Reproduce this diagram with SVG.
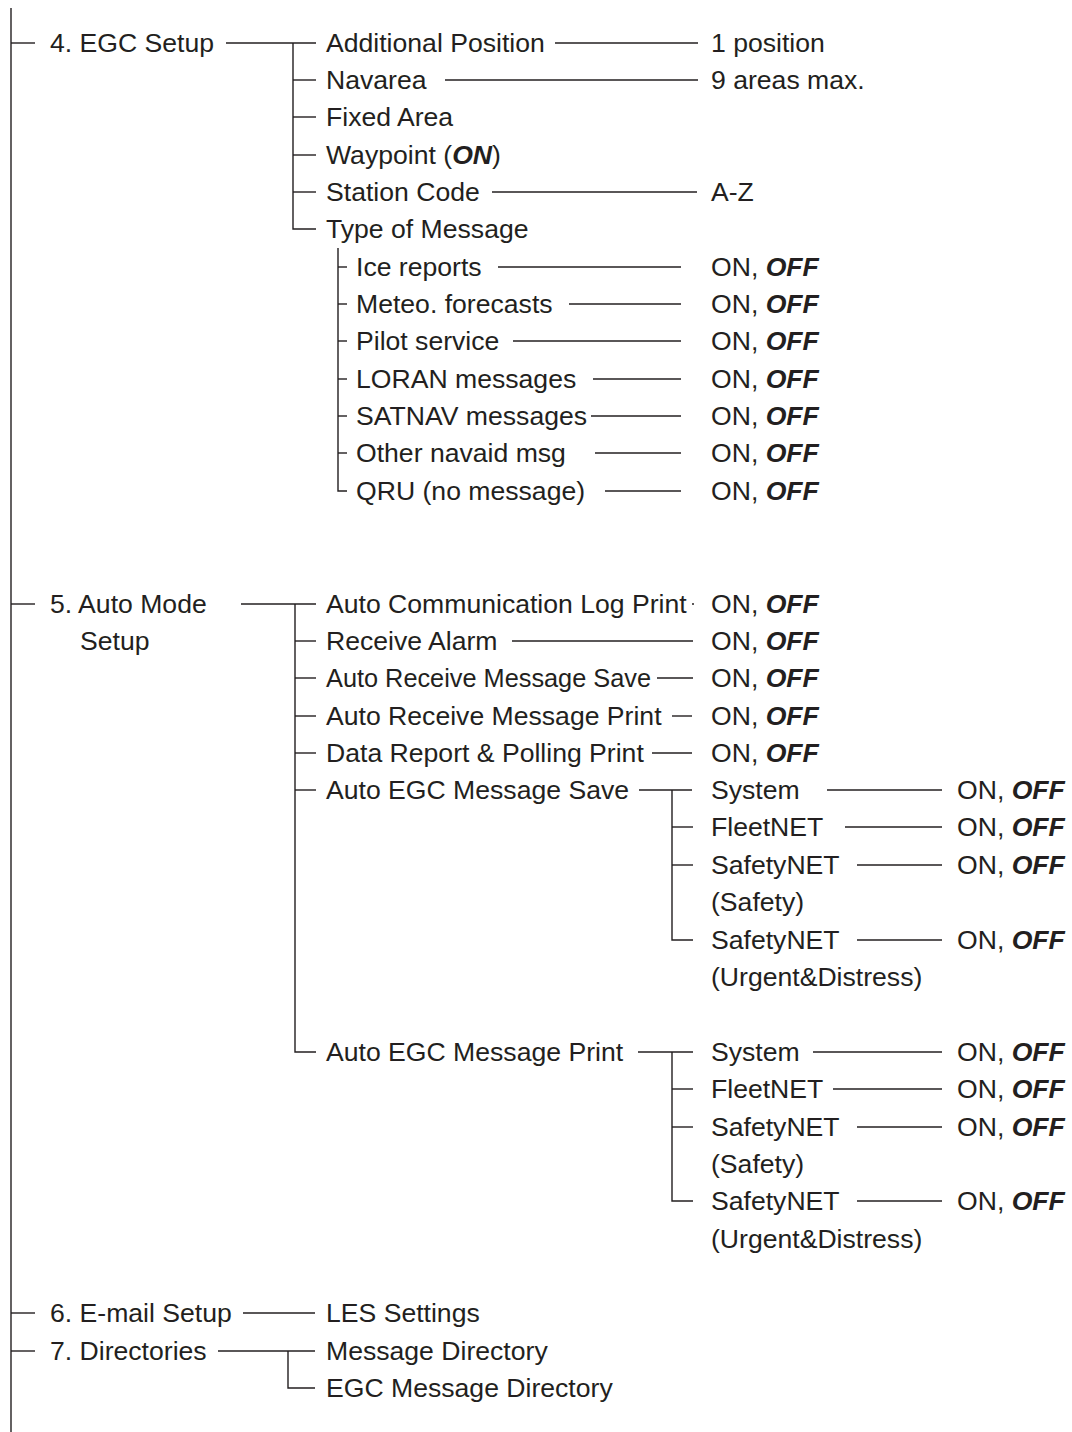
<svg xmlns="http://www.w3.org/2000/svg" width="1072" height="1432" viewBox="0 0 1072 1432">
<style>
text{font-family:"Liberation Sans",Arial,Helvetica,sans-serif;font-size:26.6px;fill:#231f20}
.b{font-weight:bold;font-style:italic}
#connectors line,#connectors path{stroke:#231f20;stroke-width:1.4;fill:none}
</style>
<rect width="1072" height="1432" fill="#fff"/>
<g id="connectors">
<line x1="11" y1="8" x2="11" y2="1432"/>
<line x1="11" y1="43" x2="35" y2="43"/>
<line x1="11" y1="604" x2="35" y2="604"/>
<line x1="11" y1="1313" x2="35" y2="1313"/>
<line x1="11" y1="1351" x2="35" y2="1351"/>
<!-- EGC setup -->
<line x1="226" y1="43" x2="316" y2="43"/>
<path d="M293 43V229H316"/>
<line x1="293" y1="80" x2="316" y2="80"/>
<line x1="293" y1="117" x2="316" y2="117"/>
<line x1="293" y1="155" x2="316" y2="155"/>
<line x1="293" y1="192" x2="316" y2="192"/>
<line x1="555" y1="43" x2="698" y2="43"/>
<line x1="445" y1="80" x2="698" y2="80"/>
<line x1="492" y1="192" x2="697" y2="192"/>
<!-- Type of message -->
<path d="M338 248V491H347"/>
<line x1="338" y1="267" x2="347" y2="267"/>
<line x1="338" y1="304" x2="347" y2="304"/>
<line x1="338" y1="341" x2="347" y2="341"/>
<line x1="338" y1="379" x2="347" y2="379"/>
<line x1="338" y1="416" x2="347" y2="416"/>
<line x1="338" y1="453" x2="347" y2="453"/>
<line x1="498" y1="267" x2="681" y2="267"/>
<line x1="569" y1="304" x2="681" y2="304"/>
<line x1="513" y1="341" x2="681" y2="341"/>
<line x1="593" y1="379" x2="681" y2="379"/>
<line x1="591" y1="416" x2="681" y2="416"/>
<line x1="595" y1="453" x2="681" y2="453"/>
<line x1="605" y1="491" x2="681" y2="491"/>
<!-- Auto mode -->
<line x1="241" y1="604" x2="316" y2="604"/>
<path d="M295 604V1052H316"/>
<line x1="295" y1="641" x2="316" y2="641"/>
<line x1="295" y1="678" x2="316" y2="678"/>
<line x1="295" y1="716" x2="316" y2="716"/>
<line x1="295" y1="753" x2="316" y2="753"/>
<line x1="295" y1="790" x2="316" y2="790"/>
<line x1="692" y1="604" x2="694" y2="604"/>
<line x1="512" y1="641" x2="693" y2="641"/>
<line x1="657" y1="678" x2="693" y2="678"/>
<line x1="672" y1="716" x2="692" y2="716"/>
<line x1="652" y1="753" x2="692" y2="753"/>
<!-- EGC save -->
<line x1="639" y1="790" x2="692" y2="790"/>
<path d="M672 790V940H693"/>
<line x1="672" y1="827" x2="693" y2="827"/>
<line x1="672" y1="865" x2="693" y2="865"/>
<line x1="827" y1="790" x2="942" y2="790"/>
<line x1="845" y1="827" x2="942" y2="827"/>
<line x1="857" y1="865" x2="942" y2="865"/>
<line x1="857" y1="940" x2="942" y2="940"/>
<!-- EGC print -->
<line x1="638" y1="1052" x2="693" y2="1052"/>
<path d="M672 1052V1201H693"/>
<line x1="672" y1="1089" x2="693" y2="1089"/>
<line x1="672" y1="1127" x2="693" y2="1127"/>
<line x1="813" y1="1052" x2="942" y2="1052"/>
<line x1="833" y1="1089" x2="942" y2="1089"/>
<line x1="857" y1="1127" x2="942" y2="1127"/>
<line x1="857" y1="1201" x2="942" y2="1201"/>
<!-- email / directories -->
<line x1="243" y1="1313" x2="315" y2="1313"/>
<line x1="218" y1="1351" x2="315" y2="1351"/>
<path d="M288 1351V1388H315"/>
</g>
<g id="n-egc"><text x="50" y="52">4. EGC Setup</text></g>
<g id="n-addpos"><text x="326" y="52">Additional Position</text></g>
<g id="n-addpos-v"><text x="711" y="52">1 position</text></g>
<g id="n-navarea"><text x="326" y="89">Navarea</text></g>
<g id="n-navarea-v"><text x="711" y="89">9 areas max.</text></g>
<g id="n-fixed"><text x="326" y="126">Fixed Area</text></g>
<g id="n-waypoint"><text x="326" y="164">Waypoint (<tspan class="b">ON</tspan>)</text></g>
<g id="n-station"><text x="326" y="201">Station Code</text></g>
<g id="n-station-v"><text x="711" y="201">A-Z</text></g>
<g id="n-type"><text x="326" y="238">Type of Message</text></g>
<g id="n-ice"><text x="356" y="276">Ice reports</text><text x="711" y="276">ON, <tspan class="b">OFF</tspan></text></g>
<g id="n-meteo"><text x="356" y="313">Meteo. forecasts</text><text x="711" y="313">ON, <tspan class="b">OFF</tspan></text></g>
<g id="n-pilot"><text x="356" y="350">Pilot service</text><text x="711" y="350">ON, <tspan class="b">OFF</tspan></text></g>
<g id="n-loran"><text x="356" y="388">LORAN messages</text><text x="711" y="388">ON, <tspan class="b">OFF</tspan></text></g>
<g id="n-satnav"><text x="356" y="425">SATNAV messages</text><text x="711" y="425">ON, <tspan class="b">OFF</tspan></text></g>
<g id="n-other"><text x="356" y="462">Other navaid msg</text><text x="711" y="462">ON, <tspan class="b">OFF</tspan></text></g>
<g id="n-qru"><text x="356" y="500">QRU (no message)</text><text x="711" y="500">ON, <tspan class="b">OFF</tspan></text></g>
<g id="n-auto"><text x="50" y="613">5. Auto Mode</text><text x="80" y="650">Setup</text></g>
<g id="n-comlog"><text x="326" y="613">Auto Communication Log Print</text><text x="711" y="613">ON, <tspan class="b">OFF</tspan></text></g>
<g id="n-alarm"><text x="326" y="650">Receive Alarm</text><text x="711" y="650">ON, <tspan class="b">OFF</tspan></text></g>
<g id="n-rsave"><text x="326" y="687" textLength="325" lengthAdjust="spacingAndGlyphs">Auto Receive Message Save</text><text x="711" y="687">ON, <tspan class="b">OFF</tspan></text></g>
<g id="n-rprint"><text x="326" y="725">Auto Receive Message Print</text><text x="711" y="725">ON, <tspan class="b">OFF</tspan></text></g>
<g id="n-data"><text x="326" y="762">Data Report &amp; Polling Print</text><text x="711" y="762">ON, <tspan class="b">OFF</tspan></text></g>
<g id="n-esave"><text x="326" y="799">Auto EGC Message Save</text></g>
<g id="n-esave-sys"><text x="711" y="799">System</text><text x="957" y="799">ON, <tspan class="b">OFF</tspan></text></g>
<g id="n-esave-fleet"><text x="711" y="836">FleetNET</text><text x="957" y="836">ON, <tspan class="b">OFF</tspan></text></g>
<g id="n-esave-safety"><text x="711" y="874">SafetyNET</text><text x="711" y="911">(Safety)</text><text x="957" y="874">ON, <tspan class="b">OFF</tspan></text></g>
<g id="n-esave-urgent"><text x="711" y="949">SafetyNET</text><text x="711" y="986">(Urgent&amp;Distress)</text><text x="957" y="949">ON, <tspan class="b">OFF</tspan></text></g>
<g id="n-eprint"><text x="326" y="1061">Auto EGC Message Print</text></g>
<g id="n-eprint-sys"><text x="711" y="1061">System</text><text x="957" y="1061">ON, <tspan class="b">OFF</tspan></text></g>
<g id="n-eprint-fleet"><text x="711" y="1098">FleetNET</text><text x="957" y="1098">ON, <tspan class="b">OFF</tspan></text></g>
<g id="n-eprint-safety"><text x="711" y="1136">SafetyNET</text><text x="711" y="1173">(Safety)</text><text x="957" y="1136">ON, <tspan class="b">OFF</tspan></text></g>
<g id="n-eprint-urgent"><text x="711" y="1210">SafetyNET</text><text x="711" y="1248">(Urgent&amp;Distress)</text><text x="957" y="1210">ON, <tspan class="b">OFF</tspan></text></g>
<g id="n-email"><text x="50" y="1322">6. E-mail Setup</text></g>
<g id="n-les"><text x="326" y="1322">LES Settings</text></g>
<g id="n-dir"><text x="50" y="1360">7. Directories</text></g>
<g id="n-msgdir"><text x="326" y="1360">Message Directory</text></g>
<g id="n-egcdir"><text x="326" y="1397">EGC Message Directory</text></g>
</svg>
